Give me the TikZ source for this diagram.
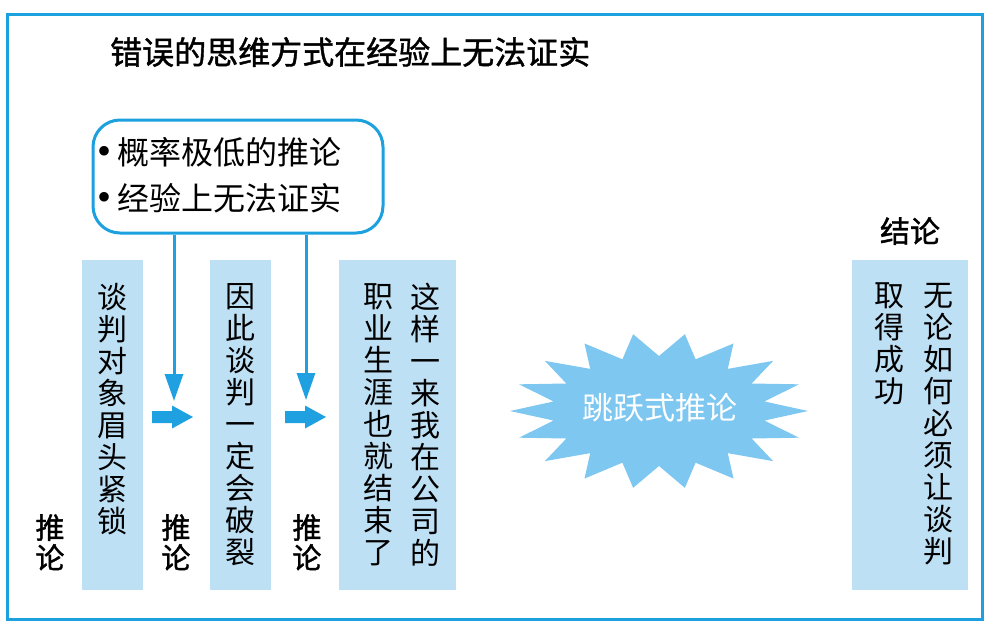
\documentclass[tikz,border=0pt]{standalone}
\usepackage{fontspec}
\setmainfont{Liberation Serif}
\newfontfamily\cjk{Noto Sans CJK SC}
\newfontfamily\cjkm{Noto Sans CJK SC}[FakeBold=1.3]
\usetikzlibrary{arrows.meta}
\definecolor{cyanline}{RGB}{28,160,222}
\definecolor{colfill}{RGB}{190,224,245}
\definecolor{burstfill}{RGB}{125,199,240}
\definecolor{arrowc}{RGB}{30,160,225}
\tikzset{
  colbox/.style={fill=colfill, draw=none, inner sep=0, anchor=north west},
  vtext/.style={font=\cjk\fontsize{30}{32}\selectfont, align=center, anchor=north, inner sep=0, text=black},
  lbl/.style={font=\cjkm\fontsize{29}{30}\selectfont, align=center, anchor=north, inner sep=0},
  bullettext/.style={font=\fontsize{32}{32}\selectfont, anchor=west, inner sep=0, text=black},
  vline/.style={draw=arrowc, line width=3pt, -{Triangle[width=18pt,length=27pt]}},
  barrow/.pic={\fill[arrowc] (0,-6)--(20,-6)--(20,-11.5)--(41,0)--(20,11.5)--(20,6)--(0,6)--cycle;},
}
\begin{document}
\begin{tikzpicture}[x=1pt,y=-1pt]
\useasboundingbox (0,0) rectangle (997,633);
% outer frame
\node[draw=cyanline, line width=3pt, minimum width=975, minimum height=605, inner sep=0, anchor=north west] (border) at (6,13) {};
% title
\node[font=\cjkm\fontsize{32}{32}\selectfont, anchor=west, inner sep=0] (title) at (110,52) {错误的思维方式在经验上无法证实};
% premise box
\node[draw=cyanline, line width=3pt, rounded corners=27pt, minimum width=290, minimum height=113, inner sep=0] (premise) at (238,176.5) {};
\node[bullettext] (l1) at (97,152) {{\fontsize{40}{40}\selectfont •}\hspace{6pt}{\cjk 概率极低的推论}};
\node[bullettext] (l2) at (97,198) {{\fontsize{40}{40}\selectfont •}\hspace{6pt}{\cjk 经验上无法证实}};
% columns
\node[colbox, minimum width=61, minimum height=330] (b1) at (82,260) {};
\node[colbox, minimum width=61, minimum height=330] (b2) at (210,260) {};
\node[colbox, minimum width=117, minimum height=330] (b3) at (339,260) {};
\node[colbox, minimum width=116, minimum height=330] (b4) at (852,260) {};
\node[vtext] (t1) at (112,283) {谈\\判\\对\\象\\眉\\头\\紧\\锁};
\node[vtext] (t2) at (240,283) {因\\此\\谈\\判\\一\\定\\会\\破\\裂};
\node[vtext] (t3r) at (425,283) {这\\样\\一\\来\\我\\在\\公\\司\\的};
\node[vtext] (t3l) at (378,283) {职\\业\\生\\涯\\也\\就\\结\\束\\了};
\node[vtext] (t4r) at (938,283) {无\\论\\如\\何\\必\\须\\让\\谈\\判};
\node[vtext] (t4l) at (889,283) {取\\得\\成\\功};
% labels
\node[lbl] (r1) at (50,514) {推\\论};
\node[lbl] (r2) at (176,514) {推\\论};
\node[lbl] (r3) at (307,514) {推\\论};
\node[font=\cjkm\fontsize{30}{30}\selectfont, inner sep=0] (concl) at (910,231) {结论};
% vertical arrows
\coordinate (a1) at (174,401);
\coordinate (a2) at (306,400);
\draw[vline] (premise.south -| a1) -- (a1);
\draw[vline] (premise.south -| a2) -- (a2);
% block arrows
\pic at (152,417) {barrow};
\pic at (285,417) {barrow};
% burst
\begin{scope}[shift={(659,411)}]
\fill[burstfill] (0:149 and 78) \foreach \a in {0,20,...,340} { -- (\a:149 and 78) -- ({\a+10}:107 and 55) } -- cycle;
\end{scope}
\node[font=\cjk\fontsize{31}{31}\selectfont, text=white, inner sep=0] (jump) at (660,408) {跳跃式推论};
\end{tikzpicture}
\end{document}
